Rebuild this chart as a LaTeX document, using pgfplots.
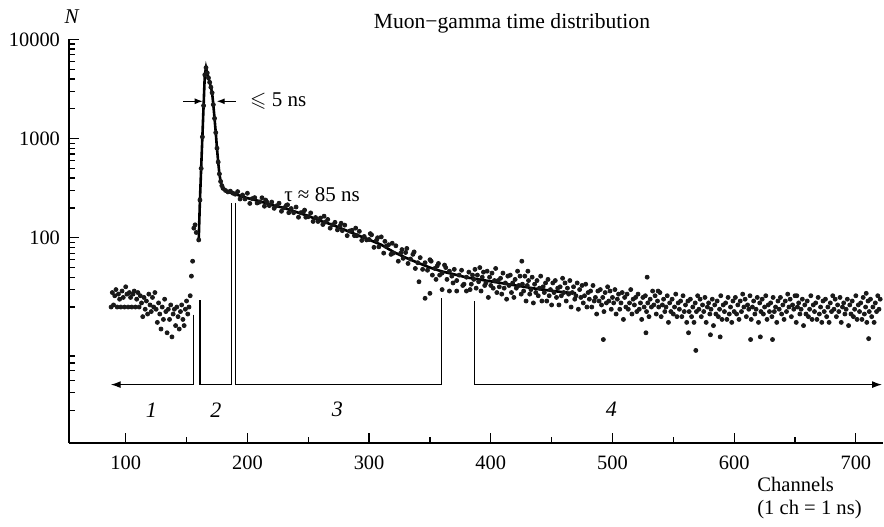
\documentclass[border=0pt]{standalone}
\usepackage{fontspec}
\setmainfont{Liberation Serif}
\usepackage{amssymb}
\usepackage{pgfplots}
\pgfplotsset{compat=1.18}
\usetikzlibrary{arrows.meta}

\begin{document}
\begin{tikzpicture}
\begin{axis}[
  scale only axis,
  width=407pt, height=201.75pt,
  xmin=53.4, xmax=722.3,
  ymode=log, ymin=0.85, ymax=10000,
  axis x line=bottom, axis y line=left,
  axis line style={-, line width=0.8pt},
  tick align=inside,
  xtick={100,200,...,700},
  minor xtick={150,250,...,650},
  ytick={100,1000,10000},
  yticklabels={100,1000,10000},
  minor ytick={1.8,2.75,3.6,4.6,5.45,6.4,20,30,40,50,60,70,80,90,200,300,400,500,600,700,800,900,2000,3000,4000,5000,6000,7000,8000,9000},
  major tick length=5pt, minor tick length=3pt,
  every tick/.style={black, line width=0.6pt},
  tick label style={font=\fontsize{10.2}{12}\selectfont},
  /pgf/number format/assume math mode=true,
  xticklabel style={yshift=-2.7pt},
  yticklabel style={xshift=-1pt},
  clip=false,
]
% fitted curve through peak and decay
\addplot[black, line width=1.3pt] coordinates {
(160,95)(161,240)(162,500)(163,1040)(164,2150)(165,4400)(166,5200)(167,4600)(168,4100)
(169,3700)(170,3300)(171,2900)(172,2200)(173,1600)(174,1150)(175,800)(176,580)(177,440)
(178,370)(179,335)(180,315)(182,300)(185,288)(190,275)(200,251)(210,234)(220,214)(230,200)
(240,182)(250,166)(260,148)(270,135)(280,120)(290,107)(300,95.5)(310,85)(320,72)(330,63)
(340,56)(350,50)(360,45.7)(370,42.7)(380,39.8)(400,36.3)(420,33.1)(440,30.2)(460,28.2)(470,27.5)
};
% measured counts
\addplot[only marks, mark=*, mark size=1.0pt, black!90] coordinates {
(88,20)(89,28)(90,21)(91,26)(92,30)(93,20)(94,27)(95,24)(96,20)(97,29)(98,25)(99,20)(100,32)
(101,27)(102,20)(103,28)(104,25)(105,20)(106,27)(107,29)(108,20)(109,24)(110,28)(111,20)
(112,26)(113,22)(114,16)(115,25)(116,19)(117,23)(118,17)(119,27)(120,21)(121,18)(122,25)
(123,20)(124,28)(125,19)(126,14)(127,22)(128,17)(129,12)(130,20)(131,15)(132,24)(133,18)
(134,11)(135,19)(136,15)(137,21)(138,10)(139,17)(140,19)(141,13)(142,20)(143,16)(144,12)
(145,18)(146,21)(147,15)(148,13)(149,19)(150,23)(151,17)(152,20)(153,26)(154,41)(155,58)
(156,125)(157,135)(158,113)
(160,95)(161,240)(162,500)(163,1040)(164,2150)(165,4400)(166,5200)(167,4600)(168,4100)
(169,3700)(170,3300)(171,2900)(172,2200)(173,1600)(174,1150)(175,800)(176,580)(177,440)
(178,370)(179,335)(180,315)(182,300)(184,290)(186,295)(188,282)
(190,275)(192,292)(194,246)(196,270)(198,246)(200,281)(202,222)(204,248)(206,254)(208,224)
(210,229)(212,253)(214,208)(216,229)(218,211)(220,229)(222,198)(224,210)(226,223)(228,185)
(230,200)(232,212)(234,179)(236,197)(238,179)(240,204)(242,161)(244,179)(246,182)(248,161)
(250,163)(252,178)(254,146)(256,160)(258,146)(260,158)(262,136)(264,144)(266,153)(268,125)
(270,135)(272,143)(274,120)(276,131)(278,118)(280,134)(282,105)(284,117)(286,119)(288,105)
(290,105)(292,116)(294,94)(296,103)(298,95)
(300,96)(302,107)(304,80)(306,94)(308,81)(310,102)(312,70)(314,82)(316,85)(318,68)
(320,70)(322,83)(324,58)(326,70)(328,62)(330,71)(332,55)(334,61)(336,68)(338,49)
(340,56)(342,63)(344,48)(346,56)(348,47)(350,60)(352,42)(354,49)(356,52)(358,42)
(360,44)(362,53)(364,38)(366,46)(368,41)(370,48)(372,37)(374,42)(376,47)(378,34)
(380,40)(382,45)(384,34)
(215,240)(233,215)(247,190)(263,165)(277,140)(289,125)(301,110)(307,100)(313,92)(319,88)
(327,76)(331,78)(337,72)(341,36)(346,24.5)(350,27.5)(351,58)(355,38)(357,55)(360,30)
(363,50)(366,29)(369,35)(372,29)(377,33)(380,29)(383,30)(385,42)
(386,38)(387,48)(388,31)(389,42)(390,36)(391,50)(392,29)(393,40)(394,45)(395,33)
(396,35)(397,46)(398,25)(399,40)(400,33)(401,44)(402,31)(403,37)(404,49)(405,28)
(406,37)(407,32)(408,39)(409,27)(410,44)(411,31)(412,35)(413,24)(414,41)(415,33)
(416,42)(417,28)(418,35)(419,25)(420,38)(421,31)(422,46)(423,33)(424,41)(425,27)
(426,34)(427,29)(428,41)(429,23)(430,33)(431,37)(432,27)(433,30)(434,40)(435,22)
(436,34)(437,28)(438,37)(439,26)(440,31)(441,41)(442,23)(443,32)(444,28)(445,35)
(446,23)(447,38)(448,26)(449,30)(450,21)(451,35)(452,28)(453,37)(454,25)(455,31)
(456,21)(457,32)(458,26)(459,39)(460,28)(461,35)(462,23)(463,31)(464,27)(465,37)
(466,20)(467,28)(468,32)(469,24)(470,26)(471,35)(472,19)(473,30)(474,25)(475,33)
(476,22)(477,26)(478,34)(479,20)(480,28)(481,24)(482,29)(483,20)(484,33)(485,23)
(486,25)(487,17)(488,29)(489,23)(490,30)(491,21)(492,25)(493,18)(494,28)(495,22)
(496,32)(497,23)(498,29)(499,19)(500,25)(501,22)(502,30)(503,17)(504,24)(505,27)
(506,19)(507,22)(508,28)(509,15)(510,25)(511,20)(512,27)(513,19)(514,22)(515,30)
(516,17)(517,24)(518,21)(519,25)(520,18)(521,27)(522,19)(523,22)(524,15)(525,25)
(526,20)(527,26)(528,18)(529,22)(530,16)(531,24)(532,20)(533,29)(534,21)(535,26)
(536,17)(537,23)(538,20)(539,28)(540,16)(541,21)(542,24)(543,18)(544,20)(545,26)
(546,14)(547,22)(548,18)(549,24)(550,17)(551,20)(552,27)(553,16)(554,22)(555,19)
(556,23)(557,16)(558,26)(559,18)(560,21)(561,14)(562,23)(563,18)(564,24)(565,16)
(566,20)(567,14)(568,22)(569,18)(570,26)(571,19)(572,24)(573,16)(574,21)(575,18)
(576,25)(577,14)(578,20)(579,22)(580,17)(581,19)(582,24)(583,13)(584,21)(585,17)
(586,23)(587,16)(588,19)(589,26)(590,15)(591,21)(592,18)(593,22)(594,15)(595,25)
(596,17)(597,20)(598,14)(599,23)(600,18)(601,25)(602,17)(603,21)(604,15)(605,23)
(606,18)(607,27)(608,20)(609,24)(610,16)(611,21)(612,19)(613,26)(614,15)(615,20)
(616,23)(617,17)(618,19)(619,25)(620,14)(621,22)(622,18)(623,24)(624,17)(625,20)
(626,26)(627,15)(628,21)(629,18)(630,22)(631,16)(632,25)(633,18)(634,20)(635,14)
(636,23)(637,19)(638,25)(639,17)(640,21)(641,15)(642,23)(643,18)(644,27)(645,20)
(646,24)(647,16)(648,21)(649,19)(650,26)(651,14)(652,20)(653,22)(654,17)(655,19)
(656,24)(657,13)(658,21)(659,17)(660,23)(661,16)(662,19)(663,26)(664,15)(665,21)
(666,18)(667,22)(668,15)(669,25)(670,17)(671,20)(672,14)(673,23)(674,18)(675,24)
(676,16)(677,20)(678,14)(679,22)(680,18)(681,26)(682,19)(683,24)(684,16)(685,21)
(686,18)(687,25)(688,14)(689,20)(690,22)(691,17)(692,19)(693,24)(694,13)(695,21)
(696,17)(697,23)(698,16)(699,19)(700,26)(701,15)(702,21)(703,18)(704,22)(705,15)
(706,25)(707,17)(708,20)(709,14)(710,23)(711,18)(712,24)(713,16)(714,20)(715,14)
(716,22)(717,18)(718,26)(719,19)(720,24)
(425.5,58)(430.5,46)(492.5,9.4)(527.5,11)(528.5,40)(537.5,29)(562.5,11)(568.5,7.3)
(580.5,10.5)(588.5,10)(613.5,9.4)(621.5,10)(631.5,9.4)(651.5,26)(708.5,27.5)(710.5,9.6)
};
% region brackets
\draw[line width=0.6pt, -{Latex[length=5pt,width=3.5pt]}] (155.8,16.8) -- (155.8,3.3) -- (87.7,3.3);
\draw[line width=0.6pt] (161,23.4) -- (161,3.3) -- (187,3.3) -- (187,225);
\draw[line width=0.6pt] (190.4,225) -- (190.4,3.3) -- (359.7,3.3) -- (359.7,24.8);
\draw[line width=0.6pt, -{Latex[length=5pt,width=3.5pt]}] (386.4,22.9) -- (386.4,3.3) -- (721.5,3.3);
\begin{scope}[every node/.style={font=\fontsize{11}{13}\selectfont\itshape}]
\node at (121,1.84) {1};
\node at (174,1.84) {2};
\node at (274,1.84) {3};
\node at (499,1.84) {4};
\end{scope}
% peak width
\draw[line width=0.6pt, -{Latex[length=4pt,width=3pt]}] (147.3,2380) -- (163.3,2380);
\draw[line width=0.6pt, -{Latex[length=4pt,width=3pt]}] (190.6,2380) -- (174.8,2380);
\node[anchor=west, inner sep=0pt, font=\fontsize{10.5}{12}\selectfont] at (202,2380) {$\leqslant$ 5 ns};
\node[inner sep=0pt, font=\fontsize{10.5}{12}\selectfont] at (261.3,275) {τ ≈ 85 ns};
\node[inner sep=0pt, font=\fontsize{10.8}{12}\selectfont] at (417.4,14500) {Muon−gamma time distribution};
\node[inner sep=0pt, font=\fontsize{10.5}{12}\selectfont\itshape] at (55.6,17000) {N};
\node[anchor=west, align=left, inner sep=0pt, font=\fontsize{10.3}{11.5}\selectfont] at (618.7,0.235) {Channels\\(1 ch = 1 ns)};
\end{axis}
\pgfresetboundingbox
\useasboundingbox (-34.5pt,-41.5pt) rectangle (407.5pt,221.5pt);
\end{tikzpicture}
\end{document}
